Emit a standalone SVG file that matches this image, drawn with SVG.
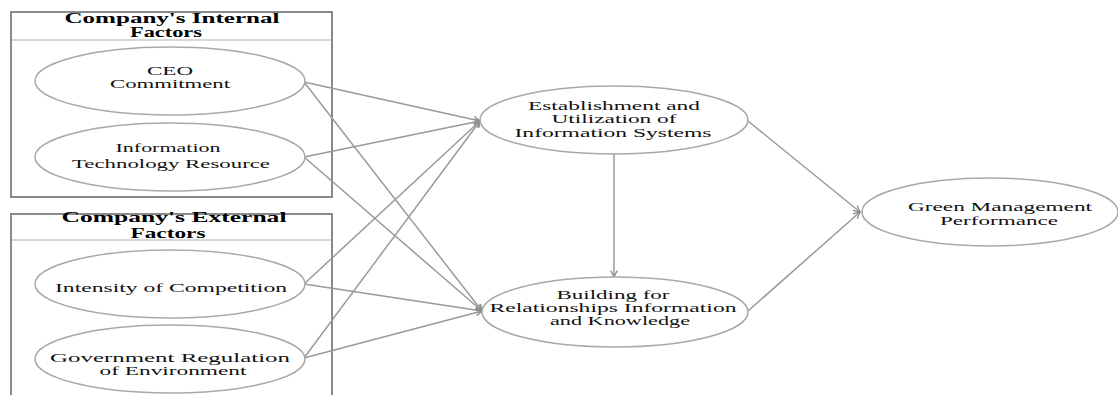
<svg xmlns="http://www.w3.org/2000/svg" width="1118" height="395" viewBox="0 0 1118 395">
<style>
.box{fill:none;stroke:#8a8a8a;stroke-width:2}
.div{stroke:#b0b0b0;stroke-width:1}
.el{fill:#fff;stroke:#a8a8a8;stroke-width:1.5}
.t{font-family:"Liberation Serif","Times New Roman",serif;font-size:13px;fill:#111;text-anchor:middle}
.h{font-family:"Liberation Serif","Times New Roman",serif;font-size:14px;font-weight:bold;fill:#000;text-anchor:middle}
.c{stroke:#9a9a9a;stroke-width:1.5;fill:none;marker-end:url(#ar)}
</style>
<defs>
<marker id="ar" viewBox="0 0 10 10" refX="9" refY="5" markerWidth="8" markerHeight="8" markerUnits="userSpaceOnUse" orient="auto">
<path d="M1,1 L9,5 L1,9" fill="none" stroke="#8a8a8a" stroke-width="1.6"/>
</marker>
</defs>
<rect width="1118" height="395" fill="#fff"/>
<g id="internal-group">
<rect class="box" x="11" y="12" width="321" height="185"/>
<line class="div" x1="12" y1="40" x2="331" y2="40"/>
<text class="h" x="172" y="23" textLength="215" lengthAdjust="spacingAndGlyphs">Company's Internal</text>
<text class="h" x="166" y="37" textLength="72" lengthAdjust="spacingAndGlyphs">Factors</text>
</g>
<g id="external-group">
<rect class="box" x="11" y="214" width="321" height="190"/>
<line class="div" x1="12" y1="240" x2="331" y2="240"/>
<text class="h" x="174" y="222" textLength="225" lengthAdjust="spacingAndGlyphs">Company's External</text>
<text class="h" x="168" y="238" textLength="75" lengthAdjust="spacingAndGlyphs">Factors</text>
</g>
<g id="connectors">
<line class="c" x1="304" y1="82" x2="480" y2="121"/>
<line class="c" x1="304" y1="82" x2="482" y2="311"/>
<line class="c" x1="304" y1="157" x2="480" y2="121"/>
<line class="c" x1="304" y1="157" x2="482" y2="311"/>
<line class="c" x1="304" y1="284" x2="480" y2="121"/>
<line class="c" x1="304" y1="284" x2="482" y2="311"/>
<line class="c" x1="304" y1="358" x2="480" y2="121"/>
<line class="c" x1="304" y1="358" x2="482" y2="311"/>
<line class="c" x1="614" y1="154" x2="614" y2="277"/>
<line class="c" x1="748" y1="121" x2="860" y2="212"/>
<line class="c" x1="748" y1="311" x2="860" y2="212"/>
</g>
<g id="ceo">
<ellipse class="el" cx="170" cy="81" rx="135" ry="34"/>
<text class="t" x="170" y="75" textLength="46" lengthAdjust="spacingAndGlyphs">CEO</text>
<text class="t" x="170" y="88" textLength="120" lengthAdjust="spacingAndGlyphs">Commitment</text>
</g>
<g id="it-resource">
<ellipse class="el" cx="170" cy="157" rx="135" ry="34"/>
<text class="t" x="168" y="152" textLength="105" lengthAdjust="spacingAndGlyphs">Information</text>
<text class="t" x="171" y="168" textLength="198" lengthAdjust="spacingAndGlyphs">Technology Resource</text>
</g>
<g id="competition">
<ellipse class="el" cx="170" cy="284" rx="135" ry="34"/>
<text class="t" x="171" y="292" textLength="232" lengthAdjust="spacingAndGlyphs">Intensity of Competition</text>
</g>
<g id="regulation">
<ellipse class="el" cx="170" cy="359" rx="135" ry="34"/>
<text class="t" x="170" y="362" textLength="240" lengthAdjust="spacingAndGlyphs">Government Regulation</text>
<text class="t" x="173" y="375" textLength="147" lengthAdjust="spacingAndGlyphs">of Environment</text>
</g>
<g id="establishment">
<ellipse class="el" cx="614" cy="120" rx="134" ry="34"/>
<text class="t" x="614" y="110" textLength="172" lengthAdjust="spacingAndGlyphs">Establishment and</text>
<text class="t" x="614" y="123" textLength="125" lengthAdjust="spacingAndGlyphs">Utilization of</text>
<text class="t" x="613" y="137" textLength="197" lengthAdjust="spacingAndGlyphs">Information Systems</text>
</g>
<g id="building">
<ellipse class="el" cx="615" cy="312" rx="133" ry="35"/>
<text class="t" x="613" y="299" textLength="113" lengthAdjust="spacingAndGlyphs">Building for</text>
<text class="t" x="613" y="312" textLength="247" lengthAdjust="spacingAndGlyphs">Relationships Information</text>
<text class="t" x="620" y="325" textLength="140" lengthAdjust="spacingAndGlyphs">and  Knowledge</text>
</g>
<g id="green">
<ellipse class="el" cx="990" cy="212" rx="128" ry="34"/>
<text class="t" x="1000" y="211" textLength="184" lengthAdjust="spacingAndGlyphs">Green Management</text>
<text class="t" x="999" y="225" textLength="118" lengthAdjust="spacingAndGlyphs">Performance</text>
</g>
</svg>
